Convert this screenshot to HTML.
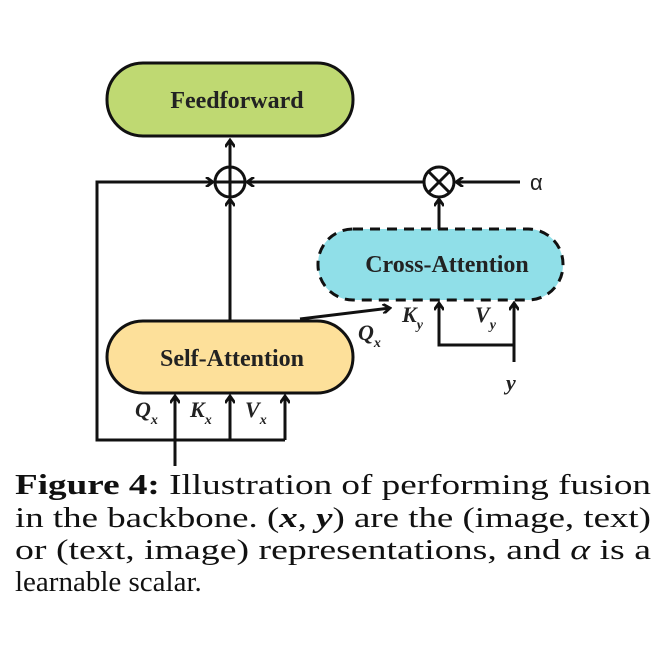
<!DOCTYPE html>
<html><head><meta charset="utf-8"><style>body{margin:0;background:#fff}svg{display:block}</style></head>
<body>
<svg width="669" height="669" viewBox="0 0 669 669" xmlns="http://www.w3.org/2000/svg">
<defs>
<marker id="a" markerWidth="10" markerHeight="10" refX="8" refY="5" orient="auto" markerUnits="userSpaceOnUse">
<path d="M1,0 L8,5 L1,10" fill="none" stroke="#111" stroke-width="2.8"/></marker>
</defs>
<g stroke="#111" stroke-width="3" fill="none">
<rect x="107" y="63" width="246" height="73" rx="36" fill="#bfd972"/>
<rect x="107" y="321" width="246" height="72" rx="36" fill="#fde09a"/>
<rect x="318" y="229" width="245" height="71" rx="35" fill="#90dfe8" stroke-dasharray="10,7"/>
<circle cx="230" cy="182" r="15"/>
<line x1="215" y1="182" x2="245" y2="182"/><line x1="230" y1="167" x2="230" y2="197"/>
<circle cx="439" cy="182" r="15"/>
<line x1="428" y1="171" x2="450" y2="193"/><line x1="450" y1="171" x2="428" y2="193"/>
<line x1="230" y1="167" x2="230" y2="140" marker-end="url(#a)"/>
<line x1="230" y1="321" x2="230" y2="199" marker-end="url(#a)"/>
<line x1="424" y1="182" x2="247" y2="182" marker-end="url(#a)"/>
<line x1="520" y1="182" x2="456" y2="182" marker-end="url(#a)"/>
<line x1="439" y1="229" x2="439" y2="199" marker-end="url(#a)"/>
<polyline points="285,440 97,440 97,182 213,182" marker-end="url(#a)"/>
<line x1="175" y1="466" x2="175" y2="396" marker-end="url(#a)"/>
<polyline points="230,440 230,396" marker-end="url(#a)"/>
<polyline points="285,440 285,396" marker-end="url(#a)"/>
<line x1="300" y1="319" x2="390" y2="308" marker-end="url(#a)"/>
<polyline points="514,362 514,345 439,345 439,303" marker-end="url(#a)"/>
<line x1="514" y1="345" x2="514" y2="303" marker-end="url(#a)"/>
</g>
<g font-family="Liberation Serif, serif" font-weight="bold" fill="#222" text-anchor="middle">
<text x="237" y="108" font-size="24">Feedforward</text>
<text x="232" y="366" font-size="24">Self-Attention</text>
<text x="447" y="272" font-size="24">Cross-Attention</text>
</g>
<g font-family="Liberation Serif, serif" font-weight="bold" font-style="italic" fill="#222" font-size="22">
<text x="135" y="417">Q<tspan font-size="14" dy="7">x</tspan></text>
<text x="190" y="417">K<tspan font-size="14" dy="7">x</tspan></text>
<text x="245" y="417">V<tspan font-size="14" dy="7">x</tspan></text>
<text x="358" y="340">Q<tspan font-size="14" dy="7">x</tspan></text>
<text x="402" y="322">K<tspan font-size="14" dy="7">y</tspan></text>
<text x="475" y="322">V<tspan font-size="14" dy="7">y</tspan></text>
<text x="506" y="390">y</text>
</g>
<text x="530" y="190" font-family="Liberation Sans, sans-serif" font-size="22" fill="#222">α</text>
<g font-family="Liberation Serif, serif" font-size="29" fill="#111">
<text x="15" y="494" textLength="636" lengthAdjust="spacingAndGlyphs"><tspan font-weight="bold">Figure 4:</tspan>  Illustration of performing fusion</text>
<text x="15" y="527" textLength="636" lengthAdjust="spacingAndGlyphs">in the backbone. (<tspan font-weight="bold" font-style="italic">x</tspan>, <tspan font-weight="bold" font-style="italic">y</tspan>) are the (image, text)</text>
<text x="15" y="559" textLength="636" lengthAdjust="spacingAndGlyphs">or (text, image) representations, and <tspan font-style="italic">α</tspan> is a</text>
<text x="15" y="591">learnable scalar.</text>
</g>
</svg>
</body></html>
